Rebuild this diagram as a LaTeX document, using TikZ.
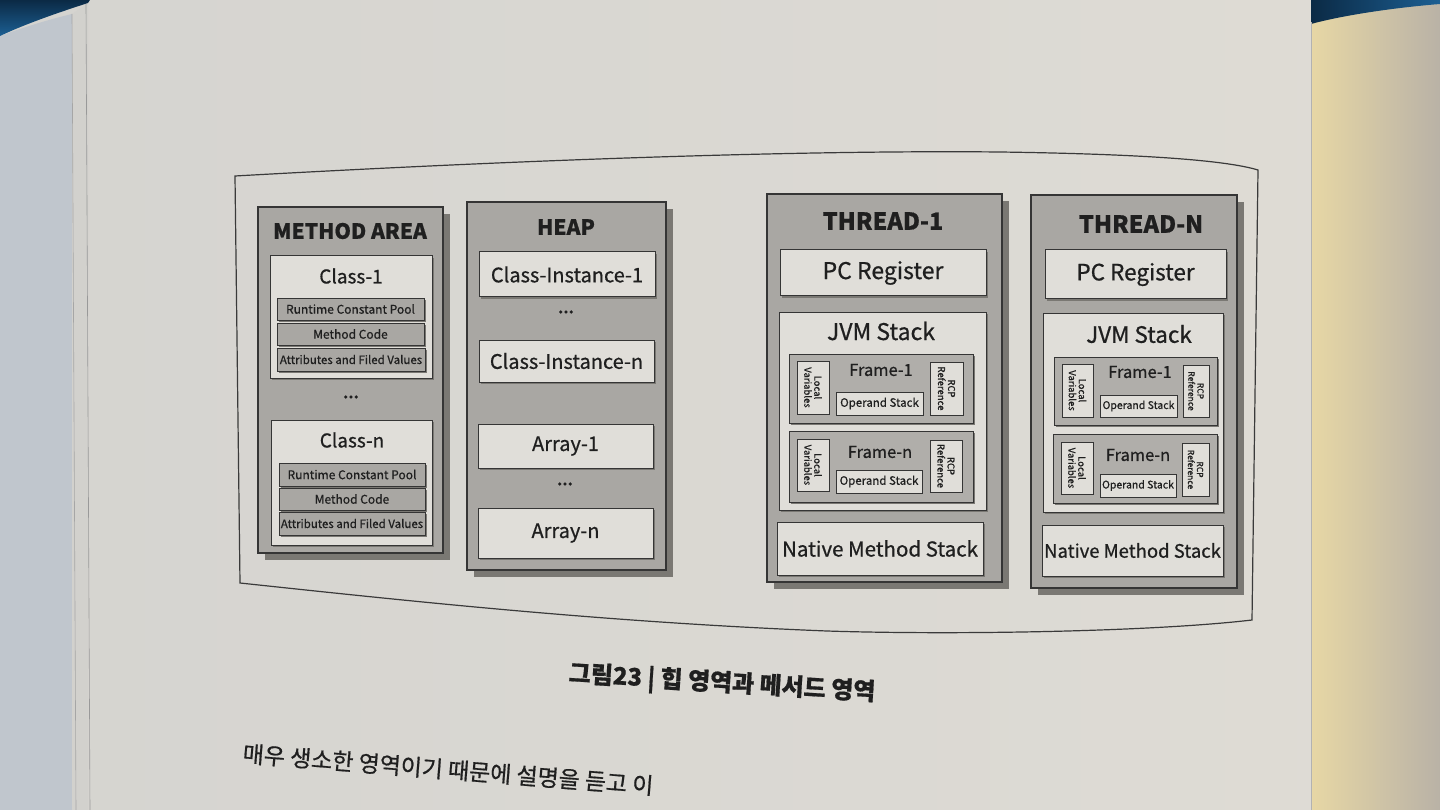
\documentclass[tikz,border=0pt]{standalone}
\usepackage{fontspec}
\setmainfont{Noto Sans CJK KR}[FakeBold=0.7]
\definecolor{paper}{HTML}{D5D4D0}
\definecolor{paperR}{HTML}{DFDCD5}
\definecolor{lineC}{HTML}{353535}
\definecolor{greyC}{HTML}{A9A7A3}
\definecolor{frmC}{HTML}{B0AEAA}
\definecolor{shadC}{HTML}{7A7873}
\definecolor{whiteC}{HTML}{E0DED9}
\definecolor{inkC}{HTML}{1F1F1F}
\definecolor{navy}{HTML}{0B2A45}
\definecolor{navyL}{HTML}{1C5F93}
\definecolor{stackC}{HTML}{C0C6CD}
\definecolor{cream}{HTML}{E7D7A5}
\definecolor{warmG}{HTML}{B9B2A6}
\definecolor{frameC}{HTML}{3A3A3A}
\newcommand\mkbox[6]{\node[#2, minimum width={(#5-#3)*1pt}, minimum height={(#6-#4)*1pt}] (#1) at ({(#3+#5)/2},{(#4+#6)/2}) {};}
\newcommand\mkshbox[7]{\fill[shadC] ({#3+#7},{#4+#7}) rectangle ({#5+#7},{#6+#7}); \mkbox{#1}{#2}{#3}{#4}{#5}{#6}}
\begin{document}
\begin{tikzpicture}[x=1pt,y=-1pt,
  cont/.style={draw=lineC, line width=1.1pt, fill=greyC, inner sep=0pt, outer sep=0pt},
  wbox/.style={draw=lineC, line width=1pt, fill=whiteC, inner sep=0pt, outer sep=0pt},
  gbar/.style={draw=lineC, line width=0.9pt, fill=greyC, inner sep=0pt, outer sep=0pt},
  fbox/.style={draw=lineC, line width=0.9pt, fill=frmC, inner sep=0pt, outer sep=0pt},
  lbl/.style={inner sep=0pt, text=inkC},
  ttl/.style={lbl, font=\fontsize{21}{21}\selectfont\bfseries},
  big/.style={lbl, font=\fontsize{20}{20}\selectfont},
  med/.style={lbl, font=\fontsize{19}{19}\selectfont},
  sml/.style={lbl, font=\fontsize{12}{12}\selectfont},
  tny/.style={lbl, font=\fontsize{9.5}{10}\selectfont, align=center, rotate=-90},
  dots/.style={lbl, font=\fontsize{15}{15}\selectfont\bfseries}
]
\useasboundingbox (0,0) rectangle (1440,810);
% ---- background (photo of the page) ----
\shade[left color=paper, right color=paperR] (0,0) rectangle (1440,810);
\fill[stackC] (0,36) .. controls (30,25) and (55,18) .. (72,14) -- (72,810) -- (0,810) -- cycle;
\fill[paper!96!gray] (72,14) -- (88,3) -- (88,810) -- (72,810) -- cycle;
\draw[gray!70, line width=0.6pt] (72,14) -- (76,810);
\draw[gray!80, line width=0.6pt] (86,4) -- (90,810);
\shade[top color=navy, bottom color=navyL] (0,0) -- (90,0) -- (88,3) .. controls (60,12) and (25,24) .. (0,36) -- cycle;
\shade[left color=cream, right color=warmG] (1311,0) rectangle (1440,810);
\shade[left color=navy, right color=navyL] (1311,0) -- (1440,0) -- (1440,4) .. controls (1390,8) and (1340,16) .. (1311,24) -- cycle;
\draw[gray!60, line width=0.5pt] (1311,22) -- (1311,810);
% ---- outer frame ----
\draw[frameC, line width=1.2pt] (235,176) .. controls (520,160) and (800,150) .. (1000,152)
  .. controls (1140,154) and (1225,160) .. (1258,170) -- (1252,620)
  .. controls (1150,632) and (950,635) .. (827,631)
  .. controls (600,622) and (400,600) .. (240,583) -- cycle;
% ---- METHOD AREA ----
\mkshbox{ma}{cont}{258}{207}{443}{553}{7}
\node[ttl] (maT) at (350,231) {METHOD AREA};
\mkshbox{c1}{wbox}{270}{256}{432}{378}{2}
\node[med] (c1T) at (351,276) {Class-1};
\mkshbox{c1a}{gbar}{277}{298}{424}{320}{2}
\mkshbox{c1b}{gbar}{277}{323}{424}{345}{2}
\mkshbox{c1c}{gbar}{277}{348}{425}{371}{2}
\node[sml] at (c1a) {Runtime Constant Pool};
\node[sml] at (c1b) {Method Code};
\node[sml, font=\fontsize{11.5}{11.5}\selectfont] at (c1c) {Attributes and Filed Values};
\node[dots] (maD) at (351,397) {...};
\mkshbox{cn}{wbox}{271}{420}{432}{545}{2}
\node[med] (cnT) at (352,440) {Class-n};
\mkshbox{cna}{gbar}{279}{463}{425}{486}{2}
\mkshbox{cnb}{gbar}{279}{488}{425}{510}{2}
\mkshbox{cnc}{gbar}{279}{512}{425}{535}{2}
\node[sml] at (cna) {Runtime Constant Pool};
\node[sml] at (cnb) {Method Code};
\node[sml, font=\fontsize{11.5}{11.5}\selectfont] at (cnc) {Attributes and Filed Values};
% ---- HEAP ----
\mkshbox{hp}{cont}{467}{202}{666}{570}{7}
\node[ttl] (hpT) at (566,227) {HEAP};
\mkshbox{ci1}{wbox}{479}{252}{655}{297}{2}
\node[big] at (ci1) {Class-Instance-1};
\node[dots] (hpD1) at (566,312) {...};
\mkshbox{cin}{wbox}{479}{340}{654}{382}{2}
\node[big] at (cin) {Class-Instance-n};
\mkshbox{ar1}{wbox}{478}{424}{653}{468}{2}
\node[big] at (ar1) {Array-1};
\node[dots] (hpD2) at (565,484) {...};
\mkshbox{arn}{wbox}{478}{508}{653}{558}{2}
\node[big] at (arn) {Array-n};
% ---- THREAD-1 ----
\mkshbox{t1}{cont}{767}{194}{1002}{582}{7}
\node[ttl, font=\fontsize{23.5}{23.5}\selectfont\bfseries] (t1T) at (883,221) {THREAD-1};
\mkshbox{t1pc}{wbox}{780}{250}{986}{296}{2}
\node[big, font=\fontsize{23}{23}\selectfont] at (t1pc) {PC Register};
\mkshbox{t1js}{wbox}{779}{312}{986}{510}{2}
\node[big, font=\fontsize{23}{23}\selectfont] (t1jsT) at (881,331) {JVM Stack};
\mkshbox{t1f1}{fbox}{789}{354}{973}{423}{2}
\node[lbl, font=\fontsize{16.5}{16.5}\selectfont] (t1f1T) at (881,370) {Frame-1};
\mkbox{t1f1l}{wbox}{797}{361}{829}{414}
\mkbox{t1f1o}{wbox}{836}{392}{923}{415}
\mkbox{t1f1r}{wbox}{930}{362}{963}{415}
\node[tny] at (t1f1l) {Local\\Variables};
\node[sml, font=\fontsize{11.5}{11.5}\selectfont] at (t1f1o) {Operand Stack};
\node[tny] at (t1f1r) {RCP\\Reference};
\mkshbox{t1fn}{fbox}{789}{431}{973}{502}{2}
\node[lbl, font=\fontsize{16.5}{16.5}\selectfont] (t1fnT) at (880,452) {Frame-n};
\mkbox{t1fnl}{wbox}{797}{439}{829}{491}
\mkbox{t1fno}{wbox}{836}{470}{922}{493}
\mkbox{t1fnr}{wbox}{930}{440}{962}{492}
\node[tny] at (t1fnl) {Local\\Variables};
\node[sml, font=\fontsize{11.5}{11.5}\selectfont] at (t1fno) {Operand Stack};
\node[tny] at (t1fnr) {RCP\\Reference};
\mkshbox{t1nm}{wbox}{777}{522}{983}{575}{2}
\node[big, font=\fontsize{20.5}{20.5}\selectfont] at (t1nm) {Native Method Stack};
% ---- THREAD-N ----
\mkshbox{tn}{cont}{1031}{195}{1237}{588}{7}
\node[ttl, font=\fontsize{23.5}{23.5}\selectfont\bfseries] (tnT) at (1141,224) {THREAD-N};
\mkshbox{tnpc}{wbox}{1045}{250}{1226}{299}{2}
\node[big, font=\fontsize{22.5}{22.5}\selectfont] at (tnpc) {PC Register};
\mkshbox{tnjs}{wbox}{1043}{313}{1223}{512}{2}
\node[big, font=\fontsize{22.5}{22.5}\selectfont] (tnjsT) at (1139,334) {JVM Stack};
\mkshbox{tnf1}{fbox}{1054}{357}{1217}{425}{2}
\node[lbl, font=\fontsize{16.5}{16.5}\selectfont] (tnf1T) at (1140,372) {Frame-1};
\mkbox{tnf1l}{wbox}{1062}{364}{1093}{417}
\mkbox{tnf1o}{wbox}{1100}{395}{1177}{417}
\mkbox{tnf1r}{wbox}{1183}{365}{1209}{417}
\node[tny] at (tnf1l) {Local\\Variables};
\node[sml, font=\fontsize{10.5}{10.5}\selectfont] at (tnf1o) {Operand Stack};
\node[tny, font=\fontsize{8.5}{9}\selectfont] at (tnf1r) {RCP\\Reference};
\mkshbox{tnfn}{fbox}{1053}{434}{1217}{503}{2}
\node[lbl, font=\fontsize{16.5}{16.5}\selectfont] (tnfnT) at (1138,455) {Frame-n};
\mkbox{tnfnl}{wbox}{1061}{442}{1093}{494}
\mkbox{tnfno}{wbox}{1100}{474}{1176}{497}
\mkbox{tnfnr}{wbox}{1182}{443}{1209}{496}
\node[tny] at (tnfnl) {Local\\Variables};
\node[sml, font=\fontsize{10.5}{10.5}\selectfont] at (tnfno) {Operand Stack};
\node[tny, font=\fontsize{8.5}{9}\selectfont] at (tnfnr) {RCP\\Reference};
\mkshbox{tnnm}{wbox}{1042}{525}{1223}{576}{2}
\node[big, font=\fontsize{18.5}{18.5}\selectfont] at (tnnm) {Native Method Stack};
% ---- caption and body text ----
\node[lbl, font=\fontsize{24}{24}\selectfont\bfseries, rotate=-3.5] (cap) at (722,684) {그림23 | 힙 영역과 메서드 영역};
\node[lbl, font=\fontsize{23}{23}\selectfont, rotate=-4.5, anchor=base west] (body) at (242,762) {매우 생소한 영역이기 때문에 설명을 듣고 이};
\end{tikzpicture}
\end{document}
